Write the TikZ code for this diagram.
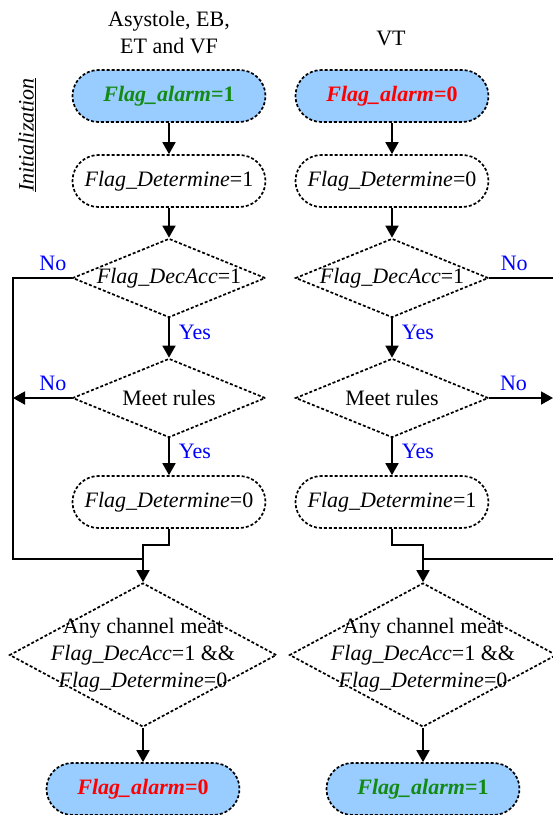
\documentclass[tikz,border=0pt]{standalone}
\usepackage{fontspec}
\setmainfont{Liberation Serif}
\usetikzlibrary{arrows.meta,shapes.geometric}
\definecolor{cAlarm}{HTML}{99CCFF}
\definecolor{cOn}{HTML}{138A13}
\definecolor{cOff}{HTML}{FF0000}
\definecolor{cAns}{HTML}{0000FF}
\newcommand{\chartfont}{\fontsize{22}{27}\selectfont}
\tikzset{
  dotbox/.style={draw, dash pattern=on 3pt off 2pt, line width=1.7pt},
  alarm/.style={dotbox, rounded corners=26pt, fill=cAlarm, minimum width=193pt,
    minimum height=52pt, font=\chartfont\bfseries},
  proc/.style={dotbox, rounded corners=26pt, minimum width=193pt, minimum height=52pt},
  decide/.style={dotbox, diamond, inner sep=0pt, minimum width=193pt, minimum height=79pt},
  bigdecide/.style={decide, minimum width=267pt, minimum height=144pt},
  flow/.style={-{Triangle[length=12pt,width=13pt]}, line width=1.8pt},
  rail/.style={line width=1.8pt},
  ans/.style={text=cAns, inner sep=2pt},
  yes/.style={ans, right, pos=0.35, xshift=7pt},
  no/.style={ans, above, yshift=4pt},
}

\begin{document}
\begin{tikzpicture}[x=1pt, y=-1pt, font=\chartfont]
    \useasboundingbox (0,0) rectangle (553,815);
    \clip (0,0) rectangle (553,815);
    \node[align=center] (tA)   at (169,33)  {Asystole, EB,\\ET and VF};
    \node               (tB)   at (391,38)  {VT};
    \node[rotate=90]    (init) at (27,135)  {\underline{\textit{Initialization}}};
    % left column
    \node[alarm, text=cOn]  (aA) at (169,96)  {\textit{Flag\_alarm}=1};
    \node[proc]             (dA) at (169,181) {\textit{Flag\_Determine}=1};
    \node[decide, label=center:{\textit{Flag\_DecAcc}=1}] (cA) at (169,278) {};
    \node[decide, label=center:{Meet rules}]              (mA) at (169,398) {};
    \node[proc]             (eA) at (169,502) {\textit{Flag\_Determine}=0};
    \node[bigdecide, label={[align=center]center:{Any channel meat\\
      \textit{Flag\_DecAcc}=1 \&\&\\\textit{Flag\_Determine}=0}}] (bA) at (143,655) {};
    \node[alarm, text=cOff] (fA) at (143,789) {\textit{Flag\_alarm}=0};
    % right column
    \node[alarm, text=cOff] (aB) at (392,96)  {\textit{Flag\_alarm}=0};
    \node[proc]             (dB) at (392,181) {\textit{Flag\_Determine}=0};
    \node[decide, label=center:{\textit{Flag\_DecAcc}=1}] (cB) at (392,278) {};
    \node[decide, label=center:{Meet rules}]              (mB) at (392,398) {};
    \node[proc]             (eB) at (392,502) {\textit{Flag\_Determine}=1};
    \node[bigdecide, label={[align=center]center:{Any channel meat\\
      \textit{Flag\_DecAcc}=1 \&\&\\\textit{Flag\_Determine}=0}}] (bB) at (423,655) {};
    \node[alarm, text=cOn]  (fB) at (423,789) {\textit{Flag\_alarm}=1};
    \coordinate (railL) at (13,559);
    \coordinate (jA)    at (143,559);
    \coordinate (kA)    at (143,545);
    \coordinate (railR) at (555,559);
    \coordinate (edgeR) at (553,0);
    \coordinate (jB)    at (423,559);
    \coordinate (kB)    at (423,545);
    \draw[flow] (aA) -- (dA);
    \draw[flow] (dA) -- (cA);
    \draw[flow] (cA) -- node[yes] {Yes} (mA);
    \draw[flow] (mA) -- node[yes] {Yes} (eA);
    \draw[flow] (eA.south) |- (kA) -- (bA.north);
    \draw[rail] (cA.west) -| node[no, pos=0.16] {No} (railL) -- (jA);
    \draw[flow] (mA.west) -- node[no, pos=0.32] {No} (mA.west -| railL);
    \draw[flow] (bA) -- (fA);
    \draw[flow] (aB) -- (dB);
    \draw[flow] (dB) -- (cB);
    \draw[flow] (cB) -- node[yes] {Yes} (mB);
    \draw[flow] (mB) -- node[yes] {Yes} (eB);
    \draw[flow] (eB.south) |- (kB) -- (bB.north);
    \draw[rail] (cB.east) -| node[no, pos=0.19] {No} (railR) -- (jB);
    \draw[flow] (mB.east) -- node[no, pos=0.38] {No} (mB.east -| edgeR);
    \draw[flow] (bB) -- (fB);
\end{tikzpicture}
\end{document}
